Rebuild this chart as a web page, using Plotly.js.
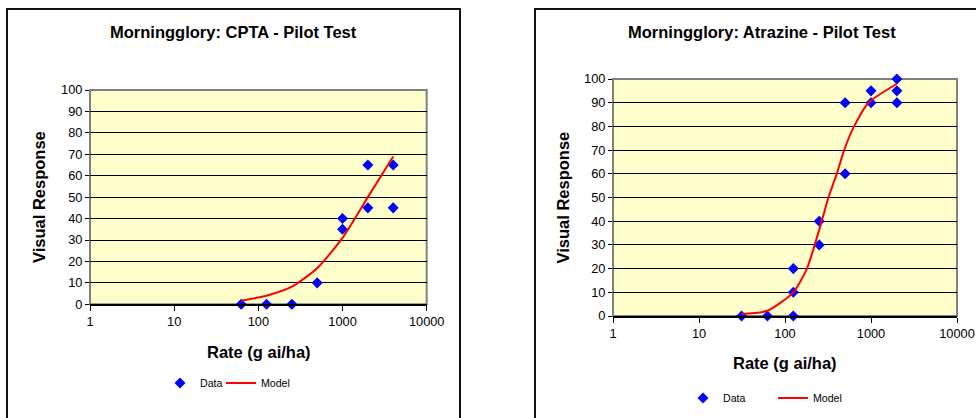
<!DOCTYPE html>
<html>
<head>
<meta charset="utf-8">
<script src="https://cdn.plot.ly/plotly-3.0.1.min.js"></script>
<style>html,body{margin:0;padding:0;background:#fff;}#chart{width:976px;height:418px;}</style>
</head>
<body>
<div id="chart"></div>
<script>
// ---- Data ----
var cptaRate = [62.5, 125, 250, 500, 1000, 1000, 2000, 2000, 4000, 4000];
var cptaResp = [0, 0, 0, 10, 40, 35, 65, 45, 65, 45];
var cptaModelRate = [62.5, 125, 250, 500, 1000, 2000, 4000];
var cptaModelResp = [1.7, 4.0, 8.2, 16.8, 31, 50, 69];

var atzRate = [31.25, 62.5, 125, 125, 125, 250, 250, 500, 500, 1000, 1000, 2000, 2000, 2000];
var atzResp = [0, 0, 20, 10, 0, 40, 30, 90, 60, 95, 90, 100, 95, 90];
var atzModelRate = [31.25, 62.5, 125, 180, 267, 320, 400, 487, 635, 935, 2000];
var atzModelResp = [0.8, 2.2, 10, 20, 40, 50, 60, 70, 80, 90, 98];

var xTickVals = [1, 10, 100, 1000, 10000];
var xTickText = ['1', '10', '100', '1000', '10000'];

var titleLeft = 'Morningglory: CPTA - Pilot Test';
var titleRight = 'Morningglory: Atrazine - Pilot Test';
var xTitle = 'Rate (g ai/ha)';
var yTitle = 'Visual Response';
var dataName = 'Data';
var modelName = 'Model';

// ---- Layout helpers ----
var W = 976, H = 418;
function px(x) { return x / W; }
function py(y) { return (H - y) / H; }

var FONT = 'Liberation Sans, Arial, sans-serif';
var BLUE = '#0000FF', RED = '#FF0000';

var traces = [
  {x: cptaRate, y: cptaResp, name: dataName, type: 'scatter', mode: 'markers', cliponaxis: false,
   legendwidth: 16,
   marker: {symbol: 'diamond', color: BLUE, size: 8.5}, xaxis: 'x', yaxis: 'y', legend: 'legend'},
  {x: cptaModelRate, y: cptaModelResp, name: modelName, type: 'scatter', mode: 'lines',
   line: {color: RED, width: 2, shape: 'spline', smoothing: 0.6}, xaxis: 'x', yaxis: 'y', legend: 'legend'},
  {x: atzRate, y: atzResp, name: dataName, type: 'scatter', mode: 'markers', cliponaxis: false,
   marker: {symbol: 'diamond', color: BLUE, size: 8.5}, xaxis: 'x2', yaxis: 'y2', legend: 'legend2'},
  {x: atzModelRate, y: atzModelResp, name: modelName, type: 'scatter', mode: 'lines',
   line: {color: RED, width: 2, shape: 'spline', smoothing: 0.6}, xaxis: 'x2', yaxis: 'y2', legend: 'legend2'}
];

function xAxis(d0, d1, anchor) {
  return {
    type: 'log', range: [0, 4], domain: [d0, d1], anchor: anchor,
    tickmode: 'array', tickvals: xTickVals, ticktext: xTickText,
    ticks: 'outside', ticklen: 5, tickwidth: 1, tickcolor: '#000',
    showline: true, linecolor: '#000', linewidth: 1.5,
    showgrid: false, zeroline: false,
    tickfont: {family: FONT, size: 12.8, color: '#000'},
    fixedrange: true
  };
}
function yAxis(d0, d1, anchor) {
  return {
    range: [0, 100], domain: [d0, d1], anchor: anchor,
    tickmode: 'linear', tick0: 0, dtick: 10,
    ticks: 'outside', ticklen: 4, tickwidth: 1, tickcolor: '#000',
    showline: false, showgrid: true, gridcolor: '#000', gridwidth: 1,
    zeroline: false,
    tickfont: {family: FONT, size: 12.8, color: '#000'},
    fixedrange: true
  };
}

var titleFont = {family: FONT, size: 16.5, color: '#000', weight: 'bold'};

var layout = {
  width: W, height: H,
  margin: {l: 0, r: 0, t: 0, b: 0, pad: 0},
  paper_bgcolor: '#FFFFFF',
  plot_bgcolor: '#FFFFCC',
  font: {family: FONT, color: '#000'},
  showlegend: true,
  xaxis: xAxis(px(90), px(426.7), 'y'),
  yaxis: yAxis(py(304.3), py(90), 'x'),
  xaxis2: xAxis(px(613), px(957), 'y2'),
  yaxis2: yAxis(py(316), py(79), 'x2'),
  legend: {
    orientation: 'h', x: px(160), xanchor: 'left', y: py(383), yanchor: 'middle',
    bgcolor: 'rgba(0,0,0,0)', borderwidth: 0,
    font: {family: FONT, size: 10.6, color: '#000'},
    itemclick: false, itemdoubleclick: false
  },
  legend2: {
    orientation: 'h', x: px(683), xanchor: 'left', y: py(398), yanchor: 'middle',
    bgcolor: 'rgba(0,0,0,0)', borderwidth: 0,
    font: {family: FONT, size: 10.6, color: '#000'},
    entrywidth: 45, entrywidthmode: 'pixels', itemclick: false, itemdoubleclick: false
  },
  shapes: [
    // chart frames
    {type: 'rect', xref: 'paper', yref: 'paper', x0: px(7), x1: px(460), y0: -0.2, y1: py(9),
     line: {color: '#111', width: 2}, fillcolor: 'rgba(0,0,0,0)', layer: 'below'},
    {type: 'rect', xref: 'paper', yref: 'paper', x0: px(535), x1: 1.2, y0: -0.2, y1: py(9),
     line: {color: '#111', width: 2}, fillcolor: 'rgba(0,0,0,0)', layer: 'below'},
    // plot-area borders (gray)
    {type: 'rect', xref: 'x domain', yref: 'y domain', x0: 0, x1: 1, y0: 0, y1: 1,
     line: {color: '#808080', width: 2}, fillcolor: 'rgba(0,0,0,0)', layer: 'below'},
    {type: 'rect', xref: 'x2 domain', yref: 'y2 domain', x0: 0, x1: 1, y0: 0, y1: 1,
     line: {color: '#808080', width: 2}, fillcolor: 'rgba(0,0,0,0)', layer: 'below'}
  ],
  annotations: [
    {text: titleLeft, xref: 'paper', yref: 'paper', x: px(233), y: py(32), xanchor: 'center', yanchor: 'middle', showarrow: false, font: titleFont},
    {text: titleRight, xref: 'paper', yref: 'paper', x: px(762), y: py(32), xanchor: 'center', yanchor: 'middle', showarrow: false, font: titleFont},
    {text: yTitle, xref: 'paper', yref: 'paper', x: px(39), y: py(197), xanchor: 'center', yanchor: 'middle', textangle: -90, showarrow: false, font: titleFont},
    {text: yTitle, xref: 'paper', yref: 'paper', x: px(562), y: py(197.5), xanchor: 'center', yanchor: 'middle', textangle: -90, showarrow: false, font: titleFont},
    {text: xTitle, xref: 'paper', yref: 'paper', x: px(259), y: py(352), xanchor: 'center', yanchor: 'middle', showarrow: false, font: titleFont},
    {text: xTitle, xref: 'paper', yref: 'paper', x: px(785), y: py(363), xanchor: 'center', yanchor: 'middle', showarrow: false, font: titleFont}
  ]
};

Plotly.newPlot('chart', traces, layout, {displayModeBar: false, staticPlot: true});
</script>
</body>
</html>
